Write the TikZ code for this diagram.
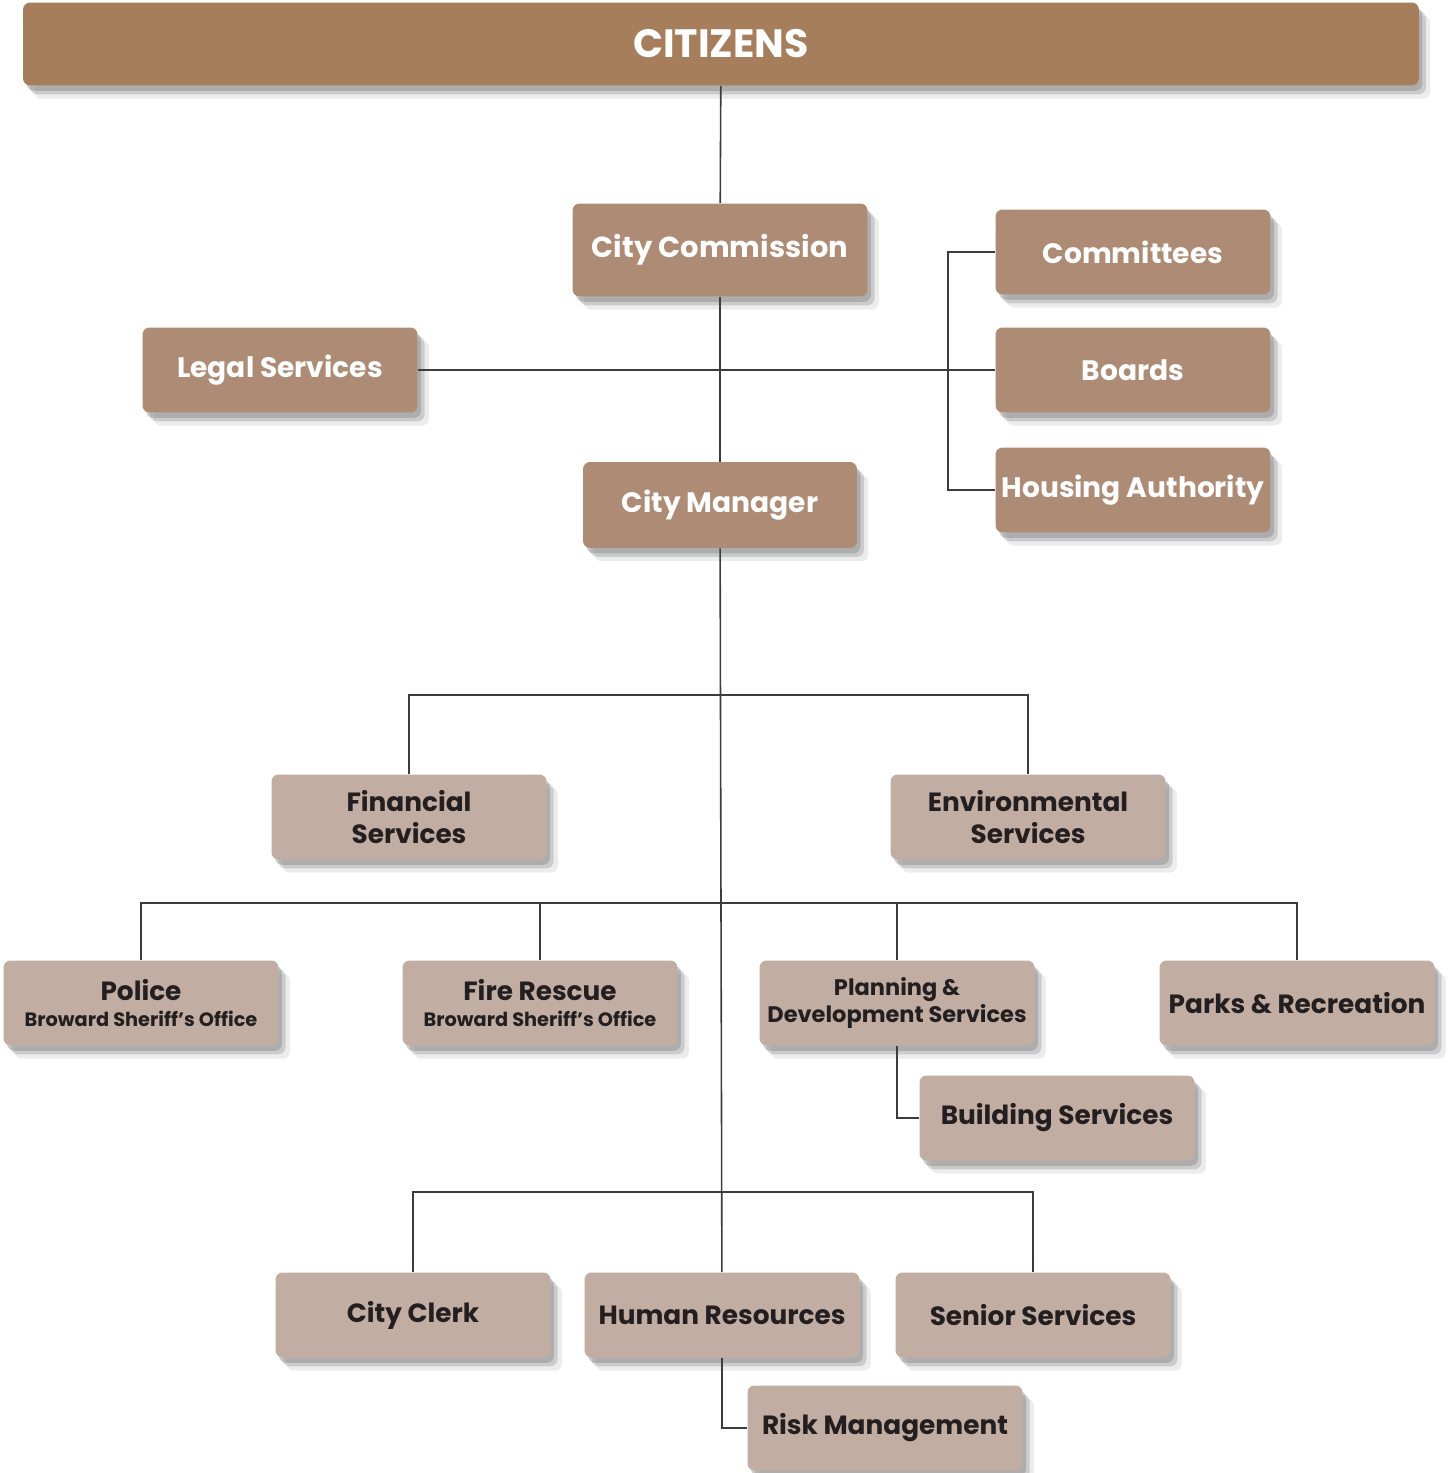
\documentclass[tikz,border=0pt]{standalone}
\usepackage{fontspec}
\setmainfont{Poppins}
\usetikzlibrary{shadows, positioning}

\definecolor{barbrown}{HTML}{A67E5C}
\definecolor{upbrown}{HTML}{AD8B74}
\definecolor{lowtan}{HTML}{C2ADA2}
\definecolor{ink}{HTML}{231F20}
\definecolor{wire}{HTML}{3C3C3C}

\newcommand{\sheriff}{{\fontsize{11}{13}\selectfont Broward Sheriff's Office}}

\begin{document}
\begin{tikzpicture}[
	x=0.02cm, y=-0.02cm,
	soft/.style={drop shadow={shadow xshift=2pt, shadow yshift=-3pt, opacity=.4},
		drop shadow={shadow xshift=4pt, shadow yshift=-5pt, opacity=.3},
		drop shadow={shadow xshift=6.5pt, shadow yshift=-7.5pt, opacity=.15}},
	box/.style={soft, rounded corners=4pt, minimum width=5.5cm, minimum height=1.7cm, align=center, inner sep=0pt},
	upper/.style={box, fill=upbrown, text=white, font=\fontsize{16}{19}\selectfont\bfseries},
	lower/.style={box, fill=lowtan, text=ink, font=\fontsize{15}{18}\selectfont\bfseries},
	wires/.style={draw=wire, line width=0.9pt}
	]
	\useasboundingbox (0,0) rectangle (1447,1473);

	% top
	\node[box, fill=barbrown, text=white, minimum width=27.92cm, minimum height=1.66cm,
		font=\fontsize{22.5}{26}\selectfont\bfseries] (citizens) at (721,44) {CITIZENS};

	% commission level
	\node[upper, minimum width=5.9cm, minimum height=1.86cm, font=\fontsize{16.5}{19}\selectfont\bfseries] (commission) at (720,250) {City Commission};
	\node[upper] (legal) at (280,370) {Legal Services};
	\node[upper] (committees) at (1133,252) {Committees};
	\node[upper] (boards) at (1133,370) {Boards};
	\node[upper] (housing) at (1133,490) {Housing Authority};
	\node[upper, minimum width=5.48cm, minimum height=1.72cm] (manager) at (720,505) {City Manager};

	% departments
	\node[lower] (financial) at (409,817) {Financial\\Services};
	\node[lower] (environmental) at (1028,817) {Environmental\\Services};
	\node[lower] (police) at (141,1003) {Police\\[-3pt]\sheriff};
	\node[lower] (fire) at (540,1003) {Fire Rescue\\[-3pt]\sheriff};
	\node[lower, font=\fontsize{12.8}{15.5}\selectfont\bfseries] (planning) at (897,1003) {Planning \&\\Development Services};
	\node[lower] (parks) at (1297,1003) {Parks \& Recreation};
	\node[lower] (building) at (1057,1118) {Building Services};
	\node[lower] (clerk) at (413,1315) {City Clerk};
	\node[lower] (hr) at (722,1315) {Human Resources};
	\node[lower] (senior) at (1033,1315) {Senior Services};
	\node[lower] (risk) at (885,1428) {Risk Management};

	% junctions
	\coordinate (bracket) at (948,370);
	\coordinate (tierA) at (720,695);
	\coordinate (tierB) at (720,903);
	\coordinate (tierC) at (720,1192);

	% connectors
	\draw[wires] (citizens) -- (commission);
	\draw[wires] (commission) -- (manager);
	\draw[wires] (manager) -- (hr);
	\draw[wires] (legal) -- (boards);
	\draw[wires] (committees) -| (bracket) |- (housing);
	\draw[wires] (financial) |- (tierA) -| (environmental);
	\draw[wires] (police) |- (tierB) -| (parks);
	\draw[wires] (fire) |- (tierB);
	\draw[wires] (planning) |- (tierB);
	\draw[wires] (planning) |- (building);
	\draw[wires] (clerk) |- (tierC) -| (senior);
	\draw[wires] (hr) |- (risk);
\end{tikzpicture}
\end{document}
